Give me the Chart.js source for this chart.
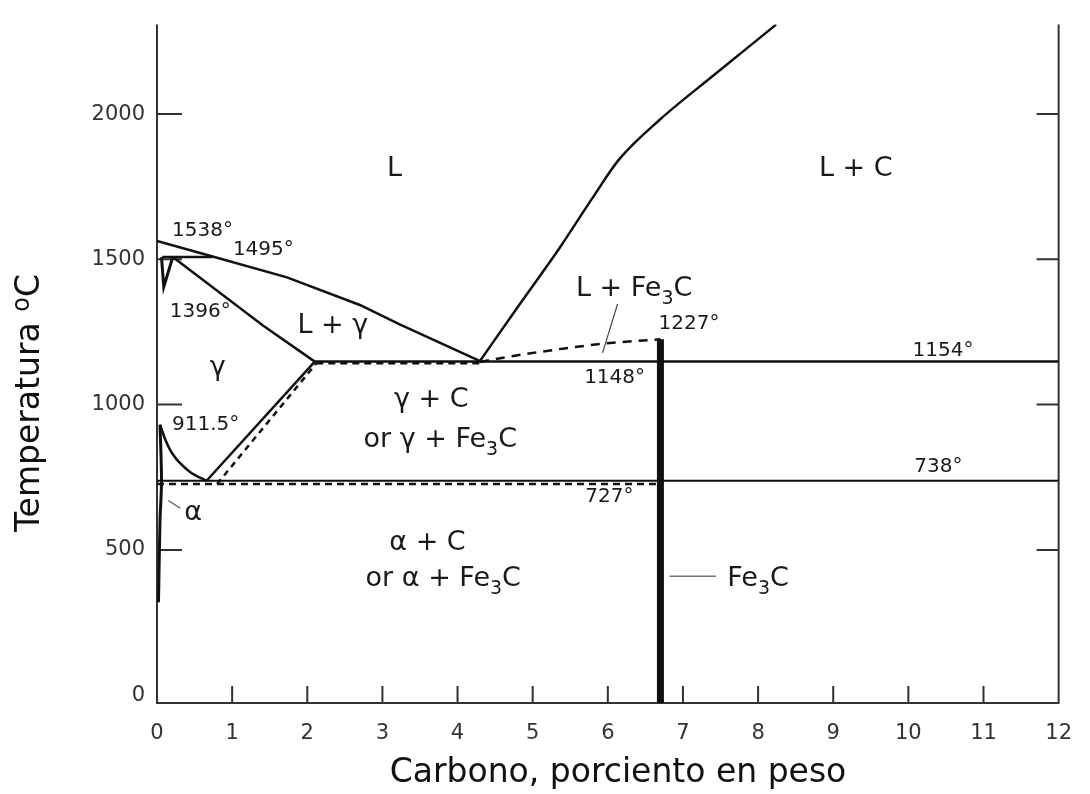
<!DOCTYPE html>
<html>
<head>
<meta charset="utf-8">
<script src="https://cdn.jsdelivr.net/npm/chart.js@4.4.1/dist/chart.umd.min.js"></script>
<style>
  html, body { margin: 0; padding: 0; background: #fff; }
</style>
</head>
<body>
<canvas id="phaseChart" width="1090" height="794"></canvas>
<script>
// tick values
const xTicks = [0, 1, 2, 3, 4, 5, 6, 7, 8, 9, 10, 11, 12];
const yTicks = [0, 500, 1000, 1500, 2000];

// phase boundaries, [wt% C, °C]
const liquidusGamma = [[0, 1563], [0.74, 1510], [1.73, 1438], [2.7, 1343], [3.23, 1276], [4.3, 1150]];
const peritectic = [[0.07, 1508], [0.74, 1508]];
const deltaGamma = [[0.06, 1508], [0.09, 1405], [0.21, 1508]];
const solidus = [[0.21, 1508], [1.41, 1272], [2.1, 1148]];
const a3Line = [[0.04, 931], [0.11, 880], [0.21, 829], [0.44, 768], [0.66, 738]];
const alphaSolvus = [[0.04, 931], [0.06, 738], [0.04, 600], [0.02, 320]];
const acmStable = [[0.66, 738], [2.1, 1148]];
const acmMeta = [[0.8, 727], [2.12, 1142]];
const eutecticStable = [[2.1, 1148], [12, 1148]];
const eutecticMeta = [[2.12, 1142], [4.3, 1142]];
const eutectoidStable = [[0, 738], [12, 738]];
const eutectoidMeta = [[0, 727], [6.7, 727]];
const liquidusGraphite = [[4.29, 1147], [4.82, 1343], [5.36, 1540], [5.79, 1709], [6.15, 1844], [6.68, 1978], [7.45, 2142], [8.24, 2308]];
const liquidusCementite = [[4.3, 1147], [4.8, 1170], [5.36, 1191], [5.98, 1211], [6.7, 1225]];
const cementite = [[6.7, 1225], [6.7, -27]];
const leaderLFe3C = [[6.13, 1347], [5.93, 1178]];
const leaderFe3C = [[6.82, 409], [7.44, 409]];
const leaderAlpha = [[0.15, 670], [0.31, 643]];

// region and temperature labels: text, x, y, size, align  ("_3" = subscript)
const annotations = [
    ['L', 3.16, 1810, 27, 'center'],
    ['L + C', 9.3, 1810, 27, 'center'],
    ['1538°', 0.2, 1597, 20, 'left'],
    ['1495°', 1.01, 1533, 20, 'left'],
    ['1396°', 0.17, 1320, 20, 'left'],
    ['L + γ', 2.34, 1269, 27, 'center'],
    ['γ', 0.81, 1127, 27, 'center'],
    ['L + Fe_3C', 6.35, 1398, 27, 'center'],
    ['1227°', 7.08, 1279, 20, 'center'],
    ['1148°', 6.09, 1093, 20, 'center'],
    ['1154°', 10.46, 1184, 20, 'center'],
    ['γ + C', 3.65, 1015, 27, 'center'],
    ['or γ + Fe_3C', 3.77, 880, 27, 'center'],
    ['911.5°', 0.2, 931, 20, 'left'],
    ['738°', 10.4, 785, 20, 'center'],
    ['727°', 6.02, 684, 20, 'center'],
    ['α', 0.48, 626, 27, 'center'],
    ['α + C', 3.6, 525, 27, 'center'],
    ['or α + Fe_3C', 3.81, 399, 27, 'center'],
    ['Fe_3C', 7.59, 399, 27, 'left']
];

const FONT = 'DejaVu Sans';
const INK = '#111';

function pts(arr) {
    return arr.map(p => ({ x: p[0], y: p[1] }));
}

function line(arr, opts) {
    return Object.assign({
        data: pts(arr),
        showLine: true,
        pointRadius: 0,
        borderColor: INK,
        borderWidth: 2.5,
        tension: 0,
        fill: false
    }, opts || {});
}

// draws text with "_3" subscript / "^o" superscript pieces
function richText(ctx, text, x, y, size, align) {
    const parts = [];
    const re = /(_|\^)(.)/g;
    let last = 0, m;
    while ((m = re.exec(text)) !== null) {
        if (m.index > last) parts.push([text.slice(last, m.index), 0]);
        parts.push([m[2], m[1] === '_' ? -1 : 1]);
        last = re.lastIndex;
    }
    if (last < text.length) parts.push([text.slice(last), 0]);

    const sized = parts.map(p => {
        const s = p[1] === 0 ? size : Math.round(size * 0.72);
        ctx.font = s + 'px "' + FONT + '"';
        return { t: p[0], s: s, shift: p[1], w: ctx.measureText(p[0]).width };
    });
    const total = sized.reduce((a, p) => a + p.w, 0);
    let cx = align === 'center' ? x - total / 2 : (align === 'right' ? x - total : x);
    ctx.textAlign = 'left';
    ctx.textBaseline = 'middle';
    sized.forEach(p => {
        ctx.font = p.s + 'px "' + FONT + '"';
        const dy = p.shift === -1 ? size * 0.38 : (p.shift === 1 ? -size * 0.22 : 0);
        ctx.fillText(p.t, cx, y + dy);
        cx += p.w;
    });
}

const framePlugin = {
    id: 'frame',
    beforeDatasetsDraw(chart) {
        const { ctx, chartArea: a, scales: { x, y } } = chart;
        ctx.save();
        ctx.strokeStyle = '#333';
        ctx.lineWidth = 2;
        ctx.beginPath();
        ctx.moveTo(a.left, a.top);
        ctx.lineTo(a.left, a.bottom);
        ctx.lineTo(a.right, a.bottom);
        ctx.lineTo(a.right, a.top);
        ctx.stroke();
        // inward tick marks
        ctx.beginPath();
        yTicks.slice(1).forEach(v => {
            const py = y.getPixelForValue(v);
            ctx.moveTo(a.left, py);
            ctx.lineTo(a.left + 25, py);
            ctx.moveTo(a.right, py);
            ctx.lineTo(a.right - 22, py);
        });
        xTicks.slice(1, -1).forEach(v => {
            const px = x.getPixelForValue(v);
            ctx.moveTo(px, a.bottom);
            ctx.lineTo(px, a.bottom - 17);
        });
        ctx.stroke();
        ctx.restore();
    },
    afterDraw(chart) {
        const { ctx, scales: { x, y } } = chart;
        ctx.save();
        ctx.fillStyle = '#1a1a1a';
        annotations.forEach(a => {
            richText(ctx, a[0], x.getPixelForValue(a[1]), y.getPixelForValue(a[2]), a[3], a[4]);
        });
        // axis titles
        ctx.fillStyle = INK;
        richText(ctx, 'Carbono, porciento en peso', 618, 773, 33, 'center');
        ctx.translate(30, 403);
        ctx.rotate(-Math.PI / 2);
        richText(ctx, 'Temperatura ^oC', 0, 0, 33, 'center');
        ctx.restore();
    }
};

new Chart(document.getElementById('phaseChart'), {
    type: 'scatter',
    data: {
        datasets: [
            line(liquidusGamma),
            line(peritectic),
            line(deltaGamma, { borderWidth: 3 }),
            line(solidus),
            line(a3Line, { cubicInterpolationMode: 'monotone' }),
            line(alphaSolvus, { borderWidth: 3, tension: 0.3 }),
            line(acmStable),
            line(acmMeta, { borderDash: [6, 5] }),
            line(eutecticStable),
            line(eutecticMeta, { borderDash: [7, 5] }),
            line(eutectoidStable, { borderWidth: 2 }),
            line(eutectoidMeta, { borderDash: [7, 5] }),
            line(liquidusGraphite, { cubicInterpolationMode: 'monotone' }),
            line(liquidusCementite, { borderDash: [9, 7], cubicInterpolationMode: 'monotone' }),
            line(cementite, { borderWidth: 7 }),
            line(leaderLFe3C, { borderWidth: 1.2, borderColor: '#444' }),
            line(leaderFe3C, { borderWidth: 1.5, borderColor: '#777' }),
            line(leaderAlpha, { borderWidth: 1.2, borderColor: '#555' })
        ]
    },
    options: {
        responsive: false,
        animation: false,
        devicePixelRatio: 1,
        layout: { padding: { top: 13, right: 30, left: 0, bottom: 0 } },
        plugins: {
            legend: { display: false },
            tooltip: { enabled: false }
        },
        scales: {
            x: {
                type: 'linear',
                min: 0,
                max: 12,
                afterBuildTicks: s => { s.ticks = xTicks.map(v => ({ value: v })); },
                afterFit: s => { s.height = 91; },
                grid: { display: false, drawTicks: false },
                border: { display: false },
                ticks: {
                    padding: 18,
                    color: '#333',
                    maxRotation: 0,
                    autoSkip: false,
                    font: { family: FONT, size: 21 },
                    callback: v => String(v)
                }
            },
            y: {
                type: 'linear',
                min: -27,
                max: 2308,
                afterBuildTicks: s => { s.ticks = yTicks.map(v => ({ value: v })); },
                afterFit: s => { s.width = 157; },
                grid: { display: false, drawTicks: false },
                border: { display: false },
                ticks: {
                    padding: 12,
                    color: '#333',
                    font: { family: FONT, size: 21 },
                    callback: v => String(v)
                }
            }
        }
    },
    plugins: [framePlugin]
});
</script>
</body>
</html>
